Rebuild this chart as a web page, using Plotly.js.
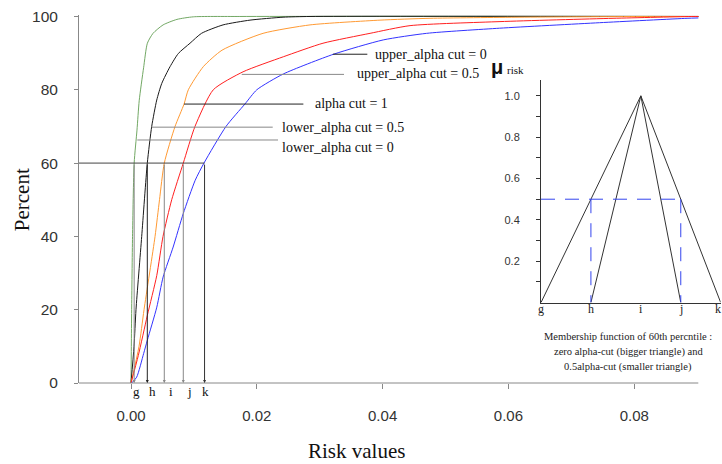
<!DOCTYPE html>
<html>
<head>
<meta charset="utf-8">
<script src="https://cdn.plot.ly/plotly-3.0.1.min.js"></script>
<style>html,body{margin:0;padding:0;background:#fff;}#chart{width:722px;height:464px;}</style>
</head>
<body>
<div id="chart"></div>
<script>
// ---- data ----
const riskTicks = [0, 0.02, 0.04, 0.06, 0.08];
const riskTickText = ['0.00', '0.02', '0.04', '0.06', '0.08'];
const pctTicks = [0, 20, 40, 60, 80, 100];

const greenX = [0.0000, 0.00005, 0.0001, 0.00024, 0.0005, 0.00095, 0.0013, 0.0020, 0.0026, 0.0035, 0.0051, 0.0073, 0.0099, 0.0173, 0.0902];
const greenY = [0, 10, 20, 40, 60, 69, 77, 86, 92.7, 95.4, 97.7, 99.2, 99.9, 100, 100];

const blackX = [0, 0.00048, 0.00079, 0.0017, 0.00259, 0.00329, 0.00409, 0.00488, 0.0062, 0.00752, 0.00938, 0.01121, 0.01463, 0.01892, 0.02417, 0.02846, 0.0902];
const blackY = [0, 10, 20, 40, 60, 70, 77.2, 81.7, 86.3, 89.9, 92.7, 95.4, 97.7, 99.0, 99.8, 100, 100];

const orangeX = [0, 0.00127, 0.00207, 0.00382, 0.00453, 0.00529, 0.0070, 0.00843, 0.00911, 0.01149, 0.01447, 0.02099, 0.02846, 0.03959, 0.04754, 0.06184, 0.08092, 0.0902];
const orangeY = [0, 10, 20, 40, 50, 60, 70, 76.1, 80, 86.3, 90.8, 95.4, 97.7, 99.0, 99.5, 99.8, 100, 100];

const redX = [0, 0.00116, 0.00259, 0.00409, 0.00509, 0.00647, 0.00831, 0.01017, 0.01308, 0.01781, 0.02421, 0.03052, 0.038, 0.04436, 0.05866, 0.07663, 0.08935, 0.0902];
const redY = [0, 7.5, 18.4, 29.3, 40, 50, 60, 70, 80, 84.9, 89.0, 92.7, 95.4, 97.5, 98.6, 99.5, 100, 100];

const blueX = [0.0001, 0.0009, 0.0020, 0.0026, 0.0041, 0.0051, 0.0067, 0.0083, 0.0102, 0.0116, 0.0151, 0.0181, 0.0200, 0.0242, 0.0322, 0.0401, 0.0470, 0.0586, 0.0745, 0.0884, 0.0902];
const blueY = [0, 1.6, 8.0, 11.7, 20.7, 28.9, 37.1, 46.2, 55.3, 60, 70, 76.1, 80, 84.3, 89.7, 93.6, 95.4, 96.8, 98.3, 99.5, 99.6];

const cutNames = ['lower_alpha cut = 0', 'lower_alpha cut = 0.5', 'alpha cut = 1', 'upper_alpha cut = 0.5', 'upper_alpha cut = 0'];
const cutLevels = [66.3, 69.8, 76.1, 84.2, 89.7];
const cutCurveX = [0.0010, 0.00329, 0.00843, 0.0176, 0.0321];

const pctLevel = 60;
const letters = ['g', 'h', 'i', 'j', 'k'];
const p60X = [0.0005, 0.00259, 0.00529, 0.00831, 0.01169];

const insetPos = [0, 0.5, 1.0, 1.4, 1.8];
const insetTicks = [0.1, 0.2, 0.3, 0.4, 0.5, 0.6, 0.7, 0.8, 0.9, 1.0];
const insetTickText = ['', '0.2', '', '0.4', '', '0.6', '', '0.8', '', '1.0'];
const membership = [0, 1, 0];
const halfCut = 0.5;

// ---- layout helpers (pixel -> paper) ----
const L = 79, R = 0, T = 14.9, B = 81.3, W = 722, H = 464;
const plotW = W - L - R, plotH = H - T - B;
const bottomPx = H - B;
function px(x) { return (x - L) / plotW; }
function py(y) { return (bottomPx - y) / plotH; }

const serif = 'Liberation Serif, Times New Roman, serif';
const sans = 'Liberation Sans, Arial, sans-serif';
const smooth = {width: 1, shape: 'spline', smoothing: 0.6};

const traces = [
  {x: greenX, y: greenY, mode: 'lines', line: Object.assign({color: '#72a864'}, smooth)},
  {x: blackX, y: blackY, mode: 'lines', line: Object.assign({color: '#1a1a1a'}, smooth)},
  {x: orangeX, y: orangeY, mode: 'lines', line: Object.assign({color: '#ff9a33'}, smooth)},
  {x: redX, y: redY, mode: 'lines', line: Object.assign({color: '#ff2020'}, smooth)},
  {x: blueX, y: blueY, mode: 'lines', line: Object.assign({color: '#3333ff'}, smooth)},
  // inset
  {x: [insetPos[0], insetPos[2], insetPos[4]], y: membership, xaxis: 'x2', yaxis: 'y2', mode: 'lines', line: {color: '#333', width: 1}},
  {x: [insetPos[1], insetPos[2], insetPos[3]], y: membership, xaxis: 'x2', yaxis: 'y2', mode: 'lines', line: {color: '#333', width: 1}},
  {x: [insetPos[0], insetPos[3]], y: [halfCut, halfCut], xaxis: 'x2', yaxis: 'y2', mode: 'lines', line: {color: '#3344ee', width: 1, dash: '14px,10px'}},
  {x: [insetPos[1], insetPos[1]], y: [halfCut, 0], xaxis: 'x2', yaxis: 'y2', mode: 'lines', line: {color: '#3344ee', width: 1, dash: '14px,10px'}},
  {x: [insetPos[3], insetPos[3]], y: [halfCut, 0], xaxis: 'x2', yaxis: 'y2', mode: 'lines', line: {color: '#3344ee', width: 1, dash: '14px,10px'}}
];

const xMin = -0.00827;
const xMax = xMin + plotW / 6290;

const shapes = [];
// bottom axis line (ends before the right edge)
shapes.push({type: 'line', xref: 'paper', yref: 'paper', x0: 0, x1: px(698.3), y0: 0, y1: 0, line: {color: '#888', width: 1}});
// 60th percentile horizontal line
shapes.push({type: 'line', xref: 'x', yref: 'y', x0: xMin, x1: p60X[4], y0: pctLevel, y1: pctLevel, line: {color: '#444', width: 1}});

// cut lines
const cutLineEnd = [0.02337, 0.02253, 0.0274, 0.03386, 0.03757];
const cutLabelX = [0.0237, 0.0237, 0.02889, 0.03561, 0.03852];
const cutLabelDy = [-2.0, -0.2, 0.2, 0.3, 0];
const cutColors = ['#888', '#888', '#222', '#888', '#222'];
cutLevels.forEach((lv, i) => {
  shapes.push({type: 'line', xref: 'x', yref: 'y', x0: cutCurveX[i], x1: cutLineEnd[i], y0: lv, y1: lv, line: {color: cutColors[i], width: 1}});
});

const annotations = [];
cutNames.forEach((name, i) => {
  annotations.push({xref: 'x', yref: 'y', x: cutLabelX[i], y: cutLevels[i] + cutLabelDy[i], text: name, showarrow: false,
    xanchor: 'left', yanchor: 'middle', font: {family: serif, size: 14, color: '#111'}});
});

// vertical arrows from the 60% level to the axis
const vColors = ['#888', '#222', '#888', '#888', '#333'];
const letterShift = [2, 5, 7, 6, 1];
p60X.forEach((xv, i) => {
  annotations.push({xref: 'x', yref: 'y', x: xv, y: 0, ax: xv, ay: pctLevel, axref: 'x', ayref: 'y', text: '',
    showarrow: true, arrowhead: 2, arrowsize: 0.6, arrowwidth: 1, arrowcolor: vColors[i], standoff: 0});
  annotations.push({xref: 'x', yref: 'y', x: xv, y: 0, xshift: letterShift[i], yshift: 1, text: letters[i], showarrow: false,
    xanchor: 'center', yanchor: 'top', font: {family: serif, size: 13, color: '#111'}});
});

// inset x letters (last one kept inside the page edge)
const insetLetterShift = [0, 0, 0, 0, -3];
insetPos.forEach((xv, i) => {
  annotations.push({xref: 'x2', yref: 'y2', x: xv, y: 0, xshift: insetLetterShift[i], yshift: 3, text: letters[i], showarrow: false,
    xanchor: 'center', yanchor: 'top', font: {family: serif, size: 12, color: '#222'}});
});

// axis titles
annotations.push({xref: 'paper', yref: 'paper', x: px(22), y: py(200), text: 'Percent', textangle: -90, showarrow: false,
  xanchor: 'center', yanchor: 'middle', font: {family: serif, size: 21, color: '#111'}});
annotations.push({xref: 'paper', yref: 'paper', x: px(356), y: py(451), text: 'Risk values', showarrow: false,
  xanchor: 'center', yanchor: 'middle', font: {family: serif, size: 21, color: '#111'}});

// inset title and caption
annotations.push({xref: 'paper', yref: 'paper', x: px(489), y: py(67), text: '<b>μ</b>', showarrow: false,
  xanchor: 'left', yanchor: 'middle', font: {family: sans, size: 20, color: '#111'}});
annotations.push({xref: 'paper', yref: 'paper', x: px(505), y: py(70), text: 'risk', showarrow: false,
  xanchor: 'left', yanchor: 'middle', font: {family: serif, size: 11, color: '#111'}});
const caption = ['Membership function of 60th percntile :', 'zero alpha-cut (bigger triangle) and', '0.5alpha-cut (smaller triangle)'];
const capY = [336, 352, 367];
caption.forEach((c, i) => {
  annotations.push({xref: 'paper', yref: 'paper', x: px(628), y: py(capY[i]), text: c, showarrow: false,
    xanchor: 'center', yanchor: 'middle', font: {family: serif, size: 10.5, color: '#222'}});
});

const layout = {
  width: W, height: H,
  margin: {l: L, r: R, t: T, b: B, pad: 0},
  paper_bgcolor: '#fff', plot_bgcolor: 'rgba(0,0,0,0)',
  showlegend: false,
  xaxis: {domain: [0, 1], range: [xMin, xMax], tickvals: riskTicks, ticktext: riskTickText,
    ticks: 'outside', ticklen: 5, tickcolor: '#888', showline: false, showgrid: false, zeroline: false,
    tickfont: {family: sans, size: 15, color: '#333'}, ticklabelstandoff: 14},
  yaxis: {domain: [0, 1], range: [0, 100.4], tickvals: pctTicks, ticks: 'outside', ticklen: 4, tickcolor: '#888',
    showline: true, linecolor: '#888', linewidth: 1, showgrid: false, zeroline: false,
    tickfont: {family: sans, size: 15.5, color: '#333'}, ticklabelstandoff: 13},
  xaxis2: {domain: [px(541), px(720.7)], anchor: 'y2', range: [0, 1.8], showticklabels: false,
    ticks: '', showline: true, linecolor: '#333', linewidth: 1, showgrid: false, zeroline: false},
  yaxis2: {domain: [py(302.3), py(80)], anchor: 'x2', range: [0, 1.076], tickvals: insetTicks, ticktext: insetTickText,
    ticks: 'outside', ticklen: 4, tickcolor: '#333', showline: true, linecolor: '#333', linewidth: 1,
    showgrid: false, zeroline: false, tickfont: {family: sans, size: 11, color: '#333'}, ticklabelstandoff: 14},
  shapes: shapes,
  annotations: annotations
};

Plotly.newPlot('chart', traces, layout, {displayModeBar: false, staticPlot: true});
</script>
</body>
</html>
